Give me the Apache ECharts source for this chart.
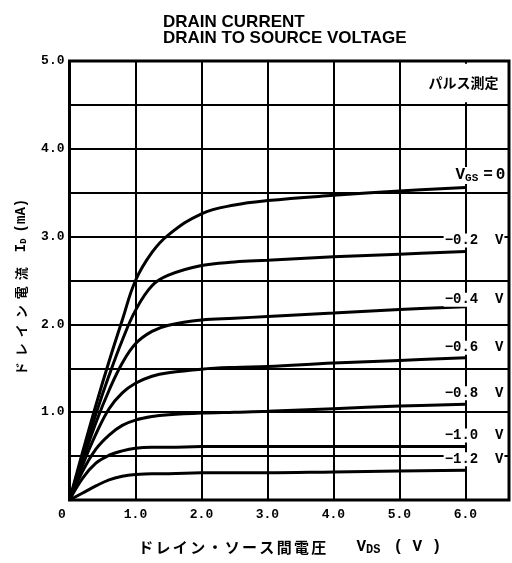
<!DOCTYPE html>
<html>
<head>
<meta charset="utf-8">
<script src="https://cdn.jsdelivr.net/npm/echarts@6/dist/echarts.min.js"></script>
<style>html,body{margin:0;padding:0;background:#fff;}#c{width:512px;height:563px;}</style>
</head>
<body>
<div id="c"></div>
<script>
// Drain-source voltage samples (V)
const vds = [0, 0.2, 0.4, 0.6, 0.8, 1.0, 1.25, 1.5, 2.0, 2.5, 3.0, 4.0, 5.0, 6.0];
// Drain current (mA) per gate-source voltage
const id_vgs0   = [0, 0.55, 1.08, 1.58, 2.05, 2.50, 2.82, 3.02, 3.26, 3.36, 3.41, 3.47, 3.52, 3.56];
const id_vgs02  = [0, 0.50, 0.98, 1.42, 1.82, 2.16, 2.44, 2.56, 2.67, 2.71, 2.73, 2.77, 2.80, 2.83];
const id_vgs04  = [0, 0.45, 0.88, 1.25, 1.56, 1.78, 1.92, 1.99, 2.05, 2.07, 2.09, 2.13, 2.17, 2.20];
const id_vgs06  = [0, 0.40, 0.75, 1.04, 1.22, 1.33, 1.41, 1.45, 1.49, 1.51, 1.52, 1.56, 1.59, 1.62];
const id_vgs08  = [0, 0.33, 0.58, 0.74, 0.85, 0.91, 0.95, 0.97, 0.99, 1.00, 1.01, 1.04, 1.07, 1.09];
const id_vgs10  = [0, 0.25, 0.42, 0.51, 0.56, 0.59, 0.60, 0.60, 0.61, 0.61, 0.61, 0.61, 0.61, 0.61];
const id_vgs12  = [0, 0.08, 0.16, 0.23, 0.27, 0.29, 0.30, 0.30, 0.31, 0.31, 0.31, 0.32, 0.33, 0.34];
const curveNames = ['VGS=0', '-0.2 V', '-0.4 V', '-0.6 V', '-0.8 V', '-1.0 V', '-1.2 V'];
const curveLabels = ['{v|V}{s|GS}{g|}{v|=}{g2|}{v|0}', '−0.2  V', '−0.4  V', '−0.6  V', '−0.8  V', '−1.0  V', '−1.2  V'];
const curves = [id_vgs0, id_vgs02, id_vgs04, id_vgs06, id_vgs08, id_vgs10, id_vgs12];
const xTicks = [0, 1, 2, 3, 4, 5, 6];
const yTicks = [1, 2, 3, 4, 5];
const xNameJa = 'ドレイン・ソース間電圧';
const yNameJa = 'ドレイン電流';

const labelDy = [-12, -11, -7, -10, -11, -11, -11];
const mono = '"Liberation Mono", "DejaVu Sans Mono", monospace';
const cjk = '"Noto Sans CJK JP", sans-serif';

const chart = echarts.init(document.getElementById('c'));
const series = curves.map((ys, i) => ({
  name: curveNames[i],
  type: 'line',
  data: vds.map((x, k) => [x, ys[k]]),
  smooth: 0.4,
  showSymbol: false,
  symbol: 'none',
  lineStyle: { color: '#000', width: 3 },
  z: 3,
  endLabel: {
    show: true,
    formatter: () => curveLabels[i],
    color: '#000',
    fontFamily: mono,
    fontWeight: 'bold',
    fontSize: 14,
    align: 'right',
    distance: 0,
    offset: [i === 0 ? 41 : 39, labelDy[i]],
    backgroundColor: '#fff',
    padding: [0, 1, 0, 1],
    rich: {
      v: { fontFamily: mono, fontWeight: 'bold', fontSize: 16, color: '#000' },
      s: { fontFamily: mono, fontWeight: 'bold', fontSize: 11, color: '#000', verticalAlign: 'bottom', padding: [6, 0, 0, 0] },
      g: { width: 5 },
      g2: { width: 3 }
    }
  },
  markArea: i === 0 ? {
    silent: true,
    itemStyle: { color: '#fff' },
    label: {
      show: true, position: 'inside', color: '#000',
      fontFamily: cjk, fontWeight: 'bold', fontSize: 14,
      offset: [9, 0]
    },
    data: [[{ name: 'パルス測定', coord: [5.04, 4.53] }, { coord: [6.63, 4.97] }]]
  } : undefined
}));

const xName = xNameJa.split('').map(c => '{c|' + c + '}').join('') + '{g|}{l|V}{s|DS}{g2|}{l|( V )}';
const yName = yNameJa.split('').map(c => '{c|' + c + '}').join('') + '{g|}{l|I}{s|D}{g2|}{l|(mA)}';

chart.setOption({
  animation: false,
  backgroundColor: '#fff',
  title: {
    text: 'DRAIN CURRENT\nDRAIN TO SOURCE VOLTAGE',
    left: 158, top: 9,
    textStyle: { fontFamily: '"Liberation Sans", Arial, sans-serif', fontWeight: 'bold', fontSize: 17, lineHeight: 16, color: '#000' }
  },
  grid: {
    left: 69.5, right: 2, top: 61, bottom: 63,
    show: true, borderColor: '#000', borderWidth: 3, backgroundColor: '#fff'
  },
  xAxis: {
    type: 'value', min: 0, max: 6.66, interval: 1,
    axisLine: { show: false }, axisTick: { show: false },
    splitLine: { show: true, lineStyle: { color: '#000', width: 2 } },
    axisLabel: {
      margin: 8, color: '#000', fontFamily: mono, fontWeight: 'bold', fontSize: 13,
      formatter: v => {
        if (!xTicks.includes(v)) return '';
        return v === 0 ? '{z|0}' : v.toFixed(1);
      },
      rich: { z: { fontFamily: mono, fontWeight: 'bold', fontSize: 13, color: '#000', padding: [0, 15, 0, 0] } }
    },
    name: xName,
    nameLocation: 'middle', nameGap: 38,
    nameTextStyle: {
      rich: {
        c: { fontFamily: cjk, fontWeight: 'bold', fontSize: 15, color: '#000', width: 17.3, align: 'center' },
        g: { width: 29 },
        g2: { width: 13 },
        l: { fontFamily: mono, fontWeight: 'bold', fontSize: 16, color: '#000' },
        s: { fontFamily: mono, fontWeight: 'bold', fontSize: 12, color: '#000', verticalAlign: 'bottom', padding: [6, 0, 0, 0] }
      }
    }
  },
  yAxis: {
    type: 'value', min: 0, max: 5, interval: 0.5,
    axisLine: { show: false }, axisTick: { show: false },
    splitLine: { show: true, lineStyle: { color: '#000', width: 2 } },
    axisLabel: {
      margin: 5, color: '#000', fontFamily: mono, fontWeight: 'bold', fontSize: 13,
      formatter: v => yTicks.includes(v) ? v.toFixed(1) : ''
    },
    name: yName,
    nameLocation: 'middle', nameGap: 41, nameRotate: 90,
    nameTextStyle: {
      padding: [0, 16, 0, 0],
      rich: {
        c: { fontFamily: cjk, fontWeight: 'bold', fontSize: 13, color: '#000', width: 19, align: 'center' },
        g: { width: 12 },
        g2: { width: 6 },
        l: { fontFamily: mono, fontWeight: 'bold', fontSize: 14, color: '#000' },
        s: { fontFamily: mono, fontWeight: 'bold', fontSize: 9, color: '#000', verticalAlign: 'bottom', padding: [5, 0, 0, 0] }
      }
    }
  },
  series: series
});
</script>
</body>
</html>
